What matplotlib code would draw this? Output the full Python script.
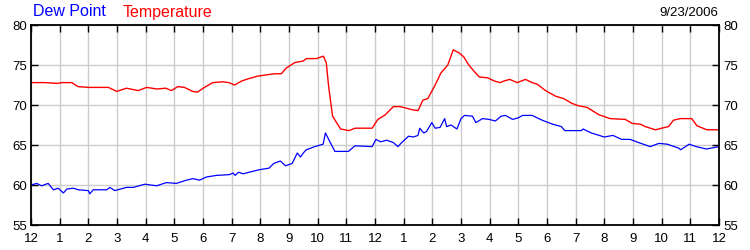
import numpy as np
import matplotlib.pyplot as plt

plt.rcParams['font.family'] = ['Liberation Sans', 'DejaVu Sans']

# hours since midnight, temperature (F)
temp_h = [0.0, 0.5, 0.9, 1.1, 1.42, 1.64, 2.0, 2.7, 2.99, 3.33, 3.74, 4.03, 4.4, 4.7, 4.9,
          5.12, 5.35, 5.64, 5.8, 6.05, 6.34, 6.69, 6.9, 7.1, 7.35, 7.6, 7.9, 8.27, 8.5,
          8.73, 8.9, 9.2, 9.5, 9.6, 9.95, 10.2, 10.3, 10.38, 10.52, 10.8, 11.1, 11.3, 11.9,
          12.1, 12.35, 12.64, 12.87, 13.1, 13.3, 13.5, 13.67, 13.84, 14.07, 14.3, 14.54,
          14.73, 14.94, 15.1, 15.27, 15.46, 15.64, 15.93, 16.16, 16.36, 16.5, 16.7, 16.96,
          17.25, 17.48, 17.66, 17.95, 18.3, 18.58, 18.87, 19.1, 19.4, 19.8, 20.2, 20.73,
          20.97, 21.26, 21.43, 21.78, 22.0, 22.24, 22.41, 22.65, 23.05, 23.23, 23.58, 24.0]
temp_v = [72.8, 72.8, 72.7, 72.8, 72.8, 72.3, 72.2, 72.2, 71.7, 72.1, 71.8, 72.2, 72.0, 72.1, 71.8,
          72.3, 72.2, 71.7, 71.6, 72.2, 72.8, 72.9, 72.8, 72.5, 73.0, 73.3, 73.6, 73.8, 73.9,
          73.9, 74.6, 75.3, 75.5, 75.8, 75.8, 76.1, 75.3, 72.4, 68.6, 67.0, 66.8, 67.1, 67.1,
          68.2, 68.75, 69.8, 69.8, 69.6, 69.4, 69.3, 70.6, 70.8, 72.3, 74.0, 75.0,
          76.9, 76.5, 76.0, 75.0, 74.2, 73.5, 73.4, 73.0, 72.8, 73.0, 73.2, 72.8,
          73.2, 72.8, 72.6, 71.8, 71.1, 70.8, 70.2, 69.9, 69.7, 68.8, 68.3, 68.2,
          67.7, 67.6, 67.3, 66.9, 67.1, 67.3, 68.1, 68.3, 68.3, 67.4, 66.9, 66.9]

# hours since midnight, dew point (F)
dew_h = [0.0, 0.2, 0.37, 0.6, 0.78, 0.95, 1.13, 1.25, 1.48, 1.65, 2.0, 2.05, 2.17, 2.64, 2.75,
         2.92, 3.33, 3.57, 3.97, 4.38, 4.72, 5.07, 5.42, 5.65, 5.88, 6.12, 6.47, 6.93, 7.05,
         7.12, 7.24, 7.4, 7.95, 8.3, 8.47, 8.7, 8.88, 9.11, 9.29, 9.4, 9.5, 9.6, 9.9, 10.19,
         10.27, 10.6, 11.07, 11.3, 11.9, 12.03, 12.2, 12.41, 12.64, 12.8, 12.93, 13.17, 13.34,
         13.5, 13.56, 13.7, 13.8, 13.98, 14.1, 14.27, 14.43, 14.5, 14.65, 14.86, 15.0, 15.12,
         15.4, 15.52, 15.75, 15.98, 16.2, 16.4, 16.55, 16.8, 17.0, 17.15, 17.48, 17.83, 18.2,
         18.5, 18.62, 19.2, 19.26, 19.55, 20.0, 20.3, 20.6, 20.9, 21.2, 21.6, 21.9, 22.2, 22.6,
         22.66, 22.96, 23.2, 23.56, 24.0]
dew_v = [60.0, 60.2, 59.9, 60.2, 59.4, 59.6, 59.0, 59.5, 59.6, 59.4, 59.3, 58.9, 59.4, 59.4, 59.7,
         59.3, 59.7, 59.7, 60.1, 59.9, 60.3, 60.2, 60.6, 60.8, 60.6, 61.0, 61.2, 61.3, 61.5,
         61.2, 61.6, 61.4, 61.9, 62.1, 62.7, 63.0, 62.4, 62.7, 64.0, 63.5, 64.0, 64.4, 64.8, 65.1,
         66.5, 64.2, 64.2, 64.9, 64.8, 65.7, 65.4, 65.6, 65.3, 64.8, 65.3, 66.1, 66.0,
         66.2, 67.1, 66.5, 66.7, 67.8, 67.1, 67.2, 68.3, 67.3, 67.5, 67.0, 68.3, 68.7,
         68.6, 67.8, 68.3, 68.2, 68.0, 68.6, 68.7, 68.2, 68.4, 68.7, 68.7, 68.1, 67.6,
         67.3, 66.8, 66.8, 67.0, 66.5, 66.0, 66.2, 65.7, 65.7, 65.3, 64.8, 65.2, 65.1, 64.6,
         64.4, 65.1, 64.8, 64.5, 64.8]

hour_labels = ['12'] + [str(i) for i in range(1, 12)] + ['12'] + [str(i) for i in range(1, 12)] + ['12']
date_label = '9/23/2006'

fig = plt.figure(figsize=(7.5, 2.5), dpi=100)
ax = fig.add_axes([31/750, 25/250, 688/750, 200/250])

ax.plot(temp_h, temp_v, color='#ff0000', lw=1.0)
ax.plot(dew_h, dew_v, color='#0000ff', lw=0.9)

ax.set_xlim(0, 24)
ax.set_ylim(55, 80)
ax.set_xticks(range(25))
ax.set_xticklabels(hour_labels)
ax.set_yticks([55, 60, 65, 70, 75, 80])
ax.grid(True, color='#cccccc', lw=1)
ax.tick_params(direction='in', length=5, width=1, labelsize=9.5, colors='black',
               top=True, right=True, labelright=True, pad=3)
ax.tick_params(axis='x', pad=6)
for s in ax.spines.values():
    s.set_linewidth(1.3)

# header texts
fig.text(33/750, 1 - 12/250, 'Dew Point', color='#0000ff', fontsize=11.5, va='center', ha='left')
fig.text(123/750, 1 - 12/250, 'Temperature', color='#ff0000', fontsize=11.5, va='center', ha='left')
fig.text(718/750, 1 - 13/250, date_label, color='black', fontsize=9.5, va='center', ha='right')

fig.savefig('out.png', dpi=100)
